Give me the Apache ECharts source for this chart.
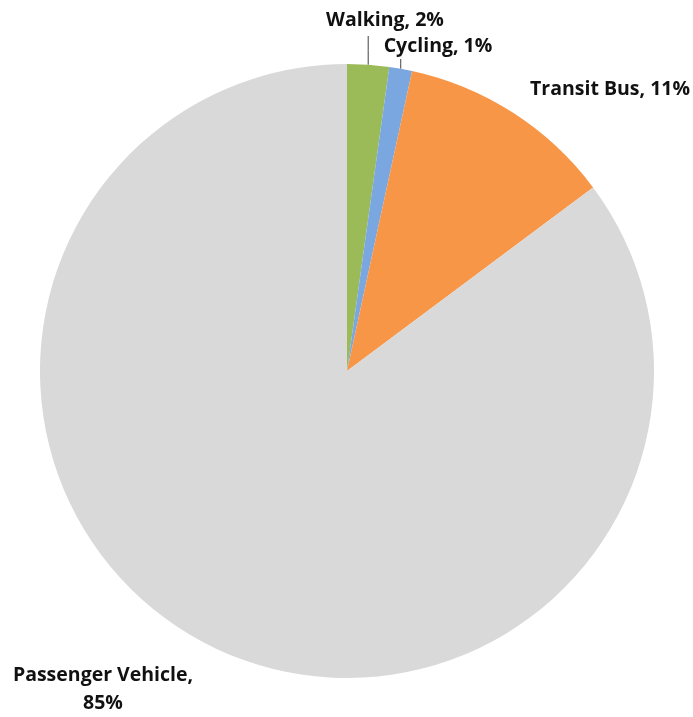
<!DOCTYPE html>
<html>
<head>
<meta charset="utf-8">
<script src="https://cdn.jsdelivr.net/npm/echarts@6/dist/echarts.min.js"></script>
<style>
html,body{margin:0;padding:0;background:#fff;}
#chart{width:693px;height:717px;}
</style>
</head>
<body>
<div id="chart"></div>
<script>
const categories = ['Walking', 'Cycling', 'Transit Bus', 'Passenger Vehicle'];
const shares = [2.2, 1.2, 11.4, 85.2];
const colors = ['#9BBB59', '#7BA7E1', '#F79646', '#D9D9D9'];

const labelSpots = [
  {x: 385, y: 20},
  {x: 438, y: 46},
  {x: 610, y: 89},
  {x: 103, y: 689}
];
const labelBottoms = [36, 59, null, null];

const chart = echarts.init(document.getElementById('chart'));
chart.setOption({
  animation: false,
  series: [{
    type: 'pie',
    center: [347, 371],
    radius: 307,
    startAngle: 90,
    clockwise: true,
    avoidLabelOverlap: false,
    data: categories.map((c, i) => ({
      name: c,
      value: shares[i],
      itemStyle: {color: colors[i]},
      labelLine: {show: labelBottoms[i] !== null}
    })),
    label: {
      show: true,
      position: 'outside',
      fontFamily: '"Open Sans", sans-serif',
      fontWeight: 'bold',
      fontSize: 19.5,
      lineHeight: 28,
      color: '#111111',
      formatter: p => {
        const pct = Math.round(p.value) + '%';
        return p.dataIndex === 3 ? p.name + ',\n' + pct : p.name + ', ' + pct;
      }
    },
    labelLine: {
      show: true,
      lineStyle: {color: '#404040', width: 1}
    },
    labelLayout: params => {
      const i = params.dataIndex;
      const out = {x: labelSpots[i].x, y: labelSpots[i].y, align: 'center', verticalAlign: 'middle', hideOverlap: false};
      if (labelBottoms[i] !== null && params.labelLinePoints) {
        const p0 = params.labelLinePoints[0];
        out.labelLinePoints = [[p0[0], p0[1]], [p0[0], (p0[1] + labelBottoms[i]) / 2], [p0[0], labelBottoms[i]]];
      }
      return out;
    },
    emphasis: {disabled: true}
  }]
});
</script>
</body>
</html>
